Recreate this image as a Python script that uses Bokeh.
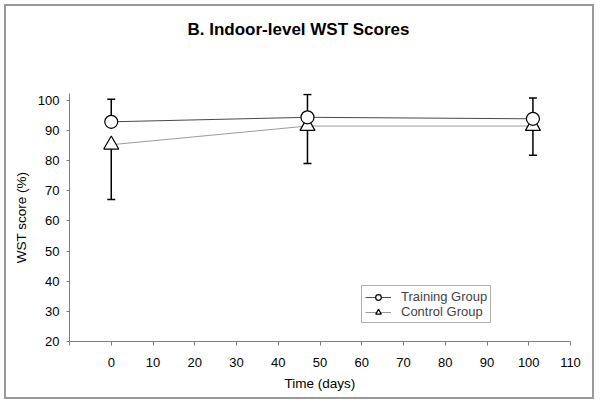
from bokeh.plotting import figure
from bokeh.models import (Range1d, FixedTicker, Whisker, ColumnDataSource, Legend,
                          LegendItem, Title)
from bokeh.embed import file_html
from bokeh.resources import INLINE

days = [0, 47, 101]
training_mean = [92.9, 94.4, 93.9]
training_sd = [7.5, 7.6, 6.9]
control_mean = [85.3, 91.5, 91.5]
control_sd = [18.2, 12.4, 9.7]

x_ticks = [-10, 0, 10, 20, 30, 40, 50, 60, 70, 80, 90, 100, 110]
y_ticks = [20, 30, 40, 50, 60, 70, 80, 90, 100]

FONT = "Liberation Sans"
W, H = 590, 395

p = figure(width=W, height=H, output_backend="svg", toolbar_location=None,
           x_range=Range1d(-10, 110), y_range=Range1d(20, 102.3),
           min_border_left=63, min_border_right=26, min_border_top=87,
           min_border_bottom=60)
p.styles = {"border": "2px solid #999999", "margin-left": "4px", "margin-top": "4px"}
p.outline_line_color = None
p.grid.grid_line_color = None
p.background_fill_color = "white"
p.border_fill_color = "white"

p.title.text = "B. Indoor-level WST Scores"
p.title.align = "left"
p.title.offset = 118
p.title.text_font = FONT
p.title.text_font_size = "17px"
p.title.text_font_style = "bold"
p.title.text_color = "black"

# spacer between title and plot area
p.add_layout(Title(text=" ", text_font_size="34px"), "above")

# axes
for ax in (p.xaxis[0], p.yaxis[0]):
    ax.axis_line_color = "#808080"
    ax.major_tick_line_color = "#808080"
    ax.minor_tick_line_color = None
    ax.major_tick_in = 0
    ax.major_label_text_font = FONT
    ax.major_label_text_font_size = "13px"
    ax.major_label_text_color = "black"
    ax.axis_label_text_font = FONT
    ax.axis_label_text_font_size = "13.5px"
    ax.axis_label_text_font_style = "normal"
    ax.axis_label_text_color = "black"

p.xaxis.ticker = FixedTicker(ticks=x_ticks)
p.xaxis.major_label_overrides = {-10: ""}
p.xaxis.major_tick_out = 4
p.xaxis.major_label_standoff = 12
p.xaxis.axis_label = "Time (days)"
p.xaxis.axis_label_standoff = 6

p.yaxis.ticker = FixedTicker(ticks=y_ticks)
p.yaxis.major_tick_out = 3
p.yaxis.major_label_standoff = 7
p.yaxis.axis_label = "WST score (%)"
p.yaxis.axis_label_standoff = 6

src = ColumnDataSource(dict(
    x=days,
    t=training_mean,
    t_up=[m + s for m, s in zip(training_mean, training_sd)],
    c=control_mean,
    c_lo=[m - s for m, s in zip(control_mean, control_sd)],
))

# error bars
wt = Whisker(base="x", lower="t", upper="t_up", source=src, dimension="height",
             line_color="black", line_width=1.5, lower_head=None)
wt.upper_head.size = 8
wt.upper_head.line_color = "black"
wt.upper_head.line_width = 1.5
wc = Whisker(base="x", lower="c_lo", upper="c", source=src, dimension="height",
             line_color="black", line_width=1.5, upper_head=None)
wc.lower_head.size = 8
wc.lower_head.line_color = "black"
wc.lower_head.line_width = 1.5
p.add_layout(wt)
p.add_layout(wc)

lt = p.line("x", "t", source=src, line_color="#4a4a4a", line_width=1)
lc = p.line("x", "c", source=src, line_color="#9a9a9a", line_width=1)
sc = p.scatter("x", "c", source=src, marker="triangle", size=15,
               fill_color="white", line_color="black", line_width=1.2)
st = p.scatter("x", "t", source=src, marker="circle", size=13,
               fill_color="white", line_color="black", line_width=1.2)

legend = Legend(items=[
    LegendItem(label="Training Group", renderers=[lt, st]),
    LegendItem(label="Control Group", renderers=[lc, sc]),
], location=(292, 18))
legend.label_text_font = FONT
legend.label_text_font_size = "13px"
legend.label_standoff = 10
legend.glyph_width = 26
legend.glyph_height = 14
legend.label_height = 14
legend.spacing = 0
legend.padding = 3
legend.margin = 0
legend.border_line_color = "#606060"
legend.border_line_width = 1
legend.background_fill_alpha = 1
p.add_layout(legend, "center")

open("out.html", "w").write(file_html(p, INLINE))
